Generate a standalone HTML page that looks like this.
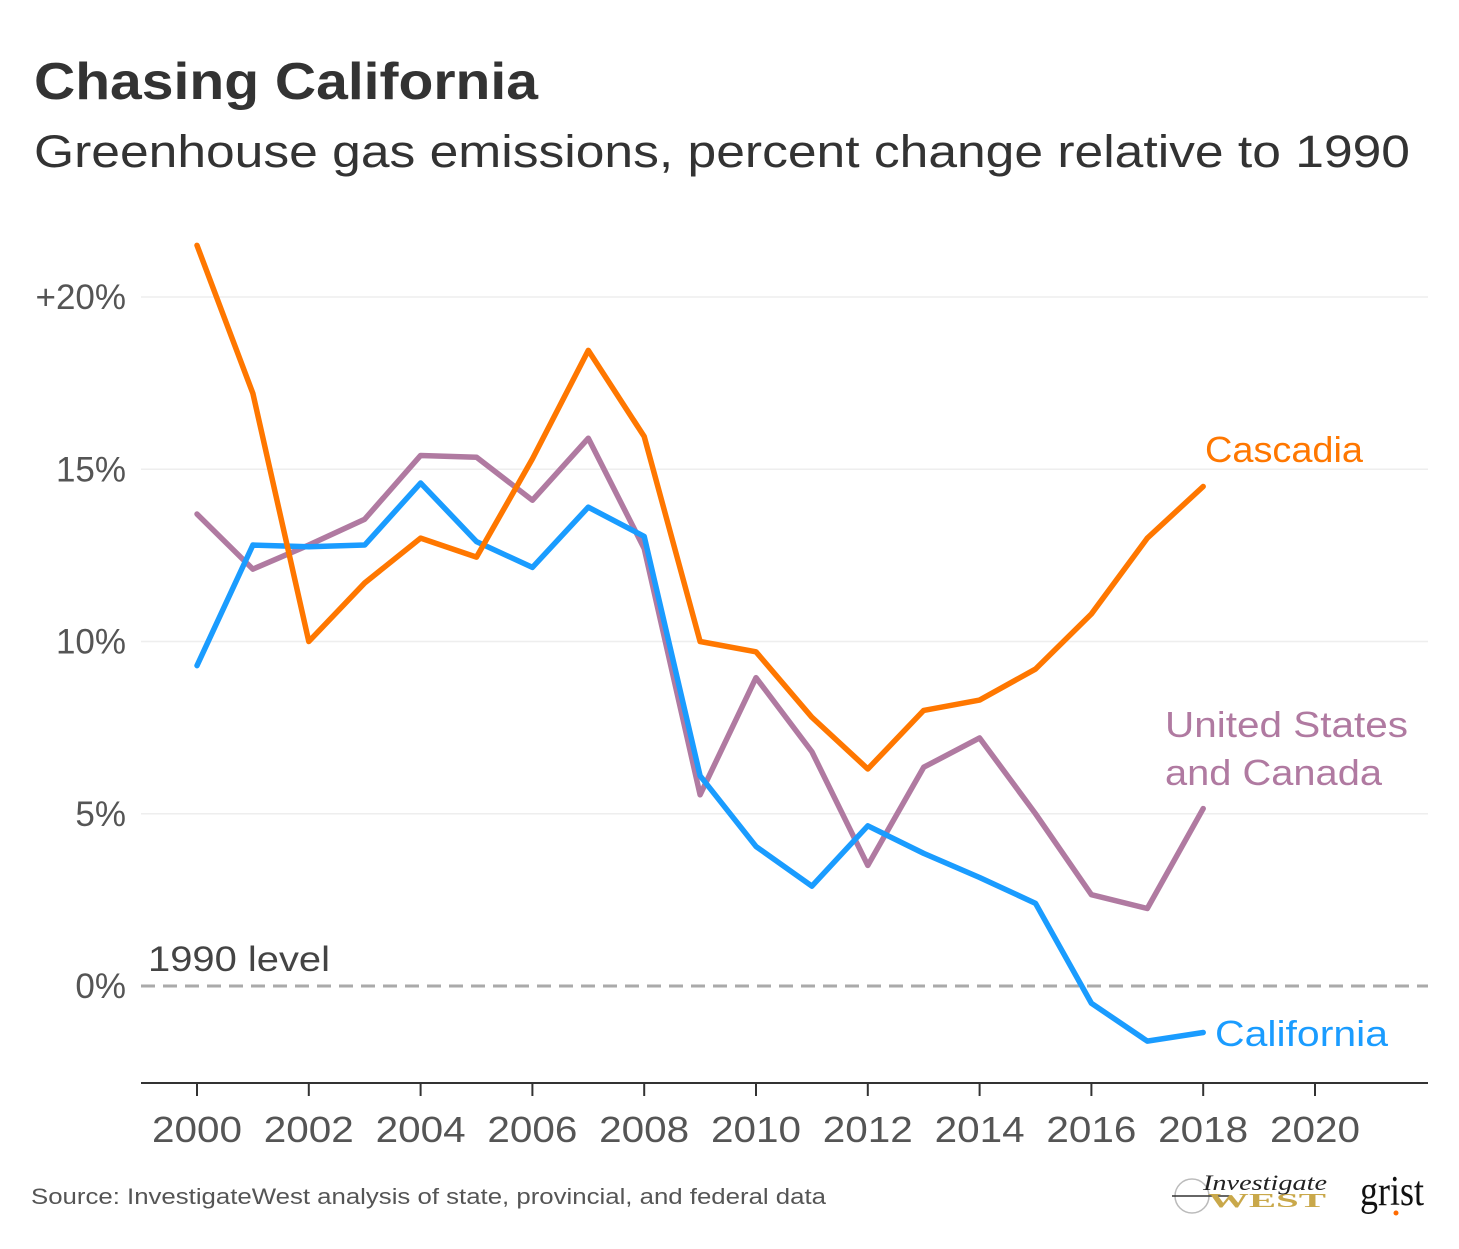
<!DOCTYPE html>
<html><head><meta charset="utf-8"><style>
body{margin:0;background:#fff;font-family:"Liberation Sans",sans-serif;}
svg{display:block}
</style></head><body>
<svg width="1459" height="1249" xmlns="http://www.w3.org/2000/svg">
<text x="34" y="99" font-size="52" font-weight="bold" fill="#333" textLength="504" lengthAdjust="spacingAndGlyphs">Chasing California</text>
<text x="34" y="167" font-size="45" fill="#333" textLength="1376" lengthAdjust="spacingAndGlyphs">Greenhouse gas emissions, percent change relative to 1990</text>
<g id="grid"></g>
<g id="yticks"></g>
<line x1="141" y1="1083" x2="1428" y2="1083" stroke="#333" stroke-width="2"/>
<g id="xticks"></g>
<line x1="141" y1="986" x2="1428" y2="986" stroke="#aaa" stroke-width="3" stroke-dasharray="14,8"/>
<text x="148" y="971" font-size="35" fill="#444" textLength="182" lengthAdjust="spacingAndGlyphs">1990 level</text>
<g id="series"></g>
<text x="1205" y="462" font-size="36" fill="#ff7700" textLength="158" lengthAdjust="spacingAndGlyphs">Cascadia</text>
<text x="1165" y="737" font-size="36" fill="#b07aa1" textLength="243" lengthAdjust="spacingAndGlyphs">United States</text>
<text x="1165" y="785" font-size="36" fill="#b07aa1" textLength="217" lengthAdjust="spacingAndGlyphs">and Canada</text>
<text x="1215" y="1046" font-size="36" fill="#1a9cff" textLength="173" lengthAdjust="spacingAndGlyphs">California</text>
<text x="31" y="1204" font-size="22" fill="#555" textLength="795" lengthAdjust="spacingAndGlyphs">Source: InvestigateWest analysis of state, provincial, and federal data</text>
<g>
<circle cx="1192" cy="1196" r="17" fill="none" stroke="#bbb" stroke-width="1.5"/>
<line x1="1172" y1="1196" x2="1230" y2="1196" stroke="#333" stroke-width="1.5"/>
<text x="1203" y="1190" font-size="22" font-style="italic" font-family="Liberation Serif,serif" fill="#222" textLength="124" lengthAdjust="spacingAndGlyphs">Investigate</text>
<text x="1208" y="1207" font-size="20" font-weight="bold" font-family="Liberation Serif,serif" fill="#c9a84a" textLength="118" lengthAdjust="spacingAndGlyphs">WEST</text>
</g>
<g>
<text x="1360" y="1205" font-size="42" font-family="Liberation Serif,serif" fill="#111" textLength="64" lengthAdjust="spacingAndGlyphs">grist</text>
<circle cx="1396" cy="1213" r="2.5" fill="#ff6a00"/>
</g>
</svg>
<script>
const years=[2000,2001,2002,2003,2004,2005,2006,2007,2008,2009,2010,2011,2012,2013,2014,2015,2016,2017,2018];
const cascadia=[21.5,17.2,10.0,11.7,13.0,12.45,15.3,18.45,15.95,10.0,9.7,7.8,6.3,8.0,8.3,9.2,10.8,13.0,14.5];
const usCanada=[13.7,12.1,12.8,13.55,15.4,15.35,14.1,15.9,12.7,5.55,8.95,6.8,3.5,6.35,7.2,5.0,2.65,2.25,5.15];
const california=[9.3,12.8,12.75,12.8,14.6,12.9,12.15,13.9,13.05,6.1,4.05,2.9,4.65,3.85,3.15,2.4,-0.5,-1.6,-1.35];
const yTicks=[0,5,10,15,20];
const yTickLabels=["0%","5%","10%","15%","+20%"];
const xTicks=[2000,2002,2004,2006,2008,2010,2012,2014,2016,2018,2020];
const NS="http://www.w3.org/2000/svg";
const x=v=>197+(v-2000)*55.9;
const y=v=>986-v*34.45;
function mk(t,a,p){const e=document.createElementNS(NS,t);for(const k in a)e.setAttribute(k,a[k]);p.appendChild(e);return e;}
const grid=document.getElementById('grid'),yt=document.getElementById('yticks'),xt=document.getElementById('xticks'),ser=document.getElementById('series');
yTicks.forEach((v,i)=>{
 if(v!==0){const l=mk('line',{x1:141,x2:1428,y1:y(v),y2:y(v),stroke:'#eee','stroke-width':1.5},grid);
 
 }
 const t=mk('text',{x:126,y:y(v)+12,'text-anchor':'end','font-size':35,fill:'#555'},yt);t.textContent=yTickLabels[i];
 
 
});
xTicks.forEach(v=>{
 const l=mk('line',{x1:x(v),x2:x(v),y1:1083,y2:1096,stroke:'#333','stroke-width':2},xt);
 
 
 const t=mk('text',{x:x(v),y:1142,'text-anchor':'middle','font-size':36,fill:'#555',textLength:90,lengthAdjust:'spacingAndGlyphs'},xt);t.textContent=v;
 
 
});
[[usCanada,'#b07aa1','line-us-canada'],[california,'#1a9cff','line-california'],[cascadia,'#ff7700','line-cascadia']].forEach(([d,c,n])=>{
 const p=mk('polyline',{points:d.map((v,i)=>x(years[i])+','+y(v)).join(' '),fill:'none',stroke:c,'stroke-width':5.5,'stroke-linejoin':'round','stroke-linecap':'round'},ser);
 
 
});
</script>
</body></html>
